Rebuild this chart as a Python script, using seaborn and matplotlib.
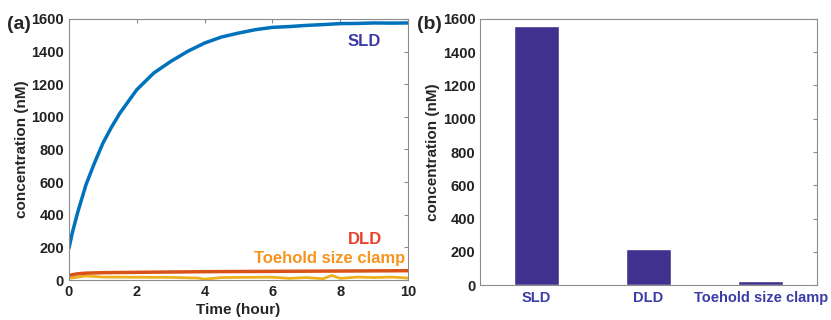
import matplotlib
matplotlib.use("Agg")
import matplotlib.pyplot as plt
import seaborn as sns
import pandas as pd

# time course
sld_time = [0, 0.1, 0.25, 0.5, 0.75, 1, 1.25, 1.5, 2, 2.5, 3, 3.5, 4, 4.5, 5, 5.5, 6, 6.5, 7, 7.5, 8, 8.5, 9, 9.5, 10]
sld_conc = [195, 290, 409, 583, 716, 838, 935, 1022, 1166, 1268, 1339, 1401, 1452, 1489, 1513, 1534,
            1548, 1553, 1560, 1565, 1571, 1572, 1575, 1574, 1575]

dld_time = [0, 0.25, 0.5, 1, 2, 3, 4, 5, 6, 7, 8, 9, 10]
dld_conc = [28, 38, 42, 45, 47, 49, 51, 52, 53, 54, 55, 56, 57]

clamp_time = [0, 0.5, 1, 2, 3, 3.8, 4, 4.5, 5, 6, 6.5, 7, 7.5, 7.75, 8, 8.5, 9, 9.5, 10]
clamp_conc = [10, 25, 18, 17, 16, 12, 5, 15, 16, 17, 10, 15, 8, 28, 10, 18, 15, 18, 12]

# final concentrations, panel (b)
bar_labels = ["SLD", "DLD", "Toehold size clamp"]
bar_values = [1555, 215, 22]

c_blue = "#0072BD"
c_red = "#D95319"
c_yellow = "#EDB120"
c_bar = "#40318E"
c_txt_blue = "#3B3CA6"
c_txt_red = "#E8402A"
c_txt_orange = "#F7941D"
axis_grey = "#8c8c8c"

sns.set_style("white")
plt.rcParams["font.family"] = ["Liberation Sans", "DejaVu Sans"]
plt.rcParams["font.weight"] = "bold"

fig = plt.figure(figsize=(8.31, 3.2), dpi=100)
ax1 = fig.add_axes([0.083, 0.125, 0.408, 0.816])
ax2 = fig.add_axes([0.578, 0.109, 0.405, 0.832])

df_sld = pd.DataFrame({"t": sld_time, "c": sld_conc})
df_dld = pd.DataFrame({"t": dld_time, "c": dld_conc})
df_clamp = pd.DataFrame({"t": clamp_time, "c": clamp_conc})

sns.lineplot(data=df_clamp, x="t", y="c", ax=ax1, color=c_yellow, linewidth=2)
sns.lineplot(data=df_dld, x="t", y="c", ax=ax1, color=c_red, linewidth=2.5)
sns.lineplot(data=df_sld, x="t", y="c", ax=ax1, color=c_blue, linewidth=2.5)

ax1.set_xlim(0, 10)
ax1.set_ylim(0, 1600)
ax1.set_xticks([0, 2, 4, 6, 8, 10])
ax1.set_yticks(range(0, 1601, 200))
ax1.set_xlabel("Time (hour)", fontsize=11, fontweight="bold", labelpad=3)
ax1.set_ylabel("concentration (nM)", fontsize=11, fontweight="bold", labelpad=2)
ax1.text(8.72, 1462, "SLD", color=c_txt_blue, fontsize=12, fontweight="bold", ha="center", va="center")
ax1.text(8.72, 249, "DLD", color=c_txt_red, fontsize=12, fontweight="bold", ha="center", va="center")
ax1.text(9.93, 133, "Toehold size clamp", color=c_txt_orange, fontsize=12, fontweight="bold",
         ha="right", va="center")

df_bar = pd.DataFrame({"label": bar_labels, "value": bar_values})
sns.barplot(data=df_bar, x="label", y="value", ax=ax2, color=c_bar, width=0.4, saturation=1)
ax2.set_xlim(-0.5, 2.5)
ax2.set_ylim(0, 1600)
ax2.set_yticks(range(0, 1601, 200))
ax2.set_xlabel("")
ax2.set_ylabel("concentration (nM)", fontsize=11, fontweight="bold", labelpad=2)
ax2.tick_params(axis="x", length=0, pad=4)
for lbl, fs in zip(ax2.get_xticklabels(), [13.5, 13.5, 10.5]):
    lbl.set_color(c_txt_blue)
    lbl.set_fontsize(fs)
    lbl.set_fontweight("bold")

for ax in (ax1, ax2):
    for sp in ax.spines.values():
        sp.set_visible(True)
        sp.set_color(axis_grey)
        sp.set_linewidth(0.8)
    ax.tick_params(axis="both", direction="in", length=3, color=axis_grey,
                   top=True, right=True, labelsize=10.5)
    for lbl in ax.get_yticklabels():
        lbl.set_fontweight("bold")
        lbl.set_color("#222222")
for lbl in ax1.get_xticklabels():
    lbl.set_fontweight("bold")
    lbl.set_color("#222222")
ax2.tick_params(axis="x", top=False, bottom=False)

fig.text(0.008, 0.922, "(a)", fontsize=14, fontweight="bold", va="center")
fig.text(0.502, 0.922, "(b)", fontsize=14, fontweight="bold", va="center")

fig.savefig("out.png", dpi=100)
